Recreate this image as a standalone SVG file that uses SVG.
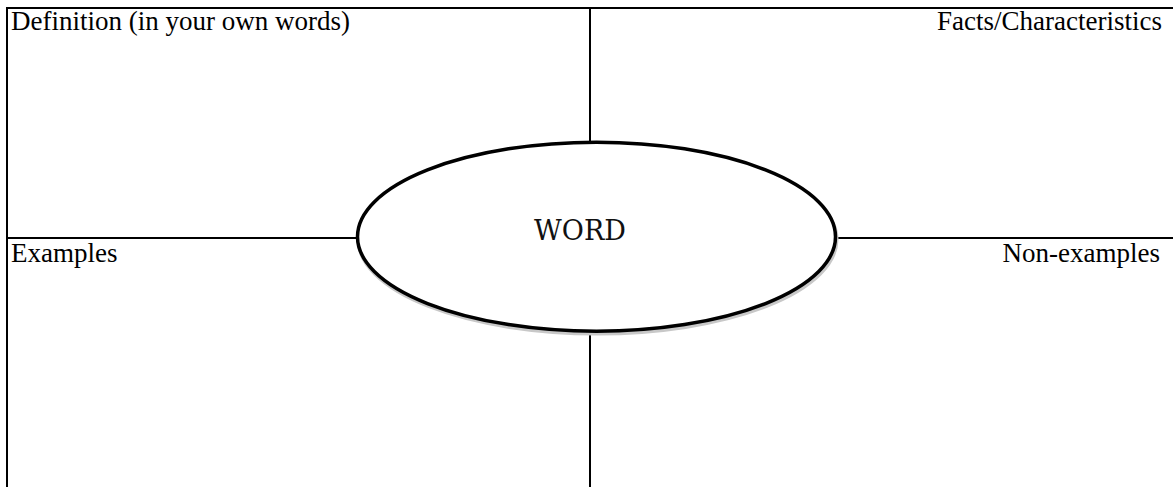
<svg xmlns="http://www.w3.org/2000/svg" width="1173" height="487" viewBox="0 0 1173 487">
<style>
.ln{stroke:#000;stroke-width:2;fill:none}
.lbl{font-family:"Liberation Serif","Times New Roman",serif;font-size:27px;fill:#000}
</style>
<rect width="1173" height="487" fill="#fff"/>
<g id="connectors">
<line class="ln" x1="7" y1="8" x2="1173" y2="8"/>
<line class="ln" x1="7" y1="7" x2="7" y2="487"/>
<line class="ln" x1="590" y1="8" x2="590" y2="142"/>
<line class="ln" x1="590" y1="331" x2="590" y2="487"/>
<line class="ln" x1="7" y1="238" x2="357" y2="238"/>
<line class="ln" x1="836" y1="238" x2="1173" y2="238"/>
</g>
<g id="label-definition"><text class="lbl" x="11" y="30">Definition (in your own words)</text></g>
<g id="label-facts"><text class="lbl" x="1162" y="30" text-anchor="end">Facts/Characteristics</text></g>
<g id="label-examples"><text class="lbl" x="11" y="262">Examples</text></g>
<g id="label-nonexamples"><text class="lbl" x="1160" y="262" text-anchor="end">Non-examples</text></g>
<g id="word">
<ellipse cx="597.5" cy="239.5" rx="239" ry="94" fill="none" stroke="#c8c8c8" stroke-width="4"/>
<ellipse cx="596.5" cy="236.7" rx="239" ry="94.5" fill="#fff" stroke="#000" stroke-width="3.5"/>
<text x="580" y="240" text-anchor="middle" font-family="'DejaVu Serif','Liberation Serif',serif" font-size="27" fill="#111">WORD</text>
</g>
</svg>
